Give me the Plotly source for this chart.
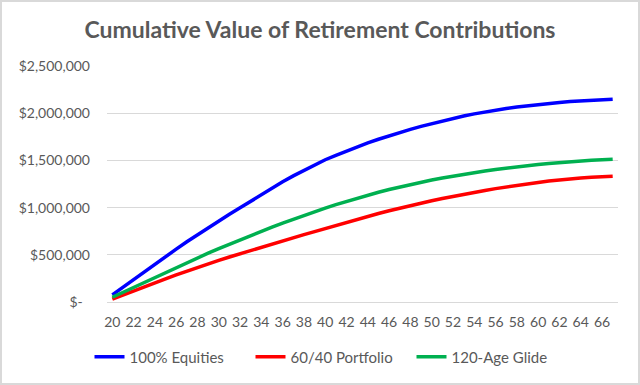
import plotly.graph_objects as go

ages = list(range(20, 68))
equities = [75, 157, 240, 322, 402, 482, 560, 638, 713, 787,
            860, 930, 998, 1069, 1139, 1207, 1273, 1336, 1396, 1453,
            1507, 1554, 1599, 1643, 1685, 1724, 1761, 1796, 1829, 1860,
            1889, 1918, 1945, 1970, 1993, 2014, 2033, 2050, 2065, 2079,
            2092, 2104, 2114, 2123, 2131, 2138, 2144, 2148]
portfolio_6040 = [30, 75, 120, 163, 205, 246, 287, 327, 366, 404,
                  441, 477, 512, 547, 581, 614, 647, 680, 713, 746,
                  779, 812, 844, 876, 907, 937, 966, 994, 1021, 1047,
                  1072, 1096, 1119, 1141, 1162, 1182, 1201, 1219, 1236, 1252,
                  1267, 1281, 1294, 1305, 1314, 1321, 1327, 1331]
glide_120 = [50, 103, 156, 209, 262, 314, 366, 418, 468, 517,
             565, 612, 658, 703, 748, 792, 835, 877, 918, 957,
             995, 1032, 1067, 1101, 1133, 1163, 1192, 1219, 1245, 1269,
             1292, 1313, 1333, 1352, 1370, 1387, 1403, 1418, 1432, 1445,
             1457, 1468, 1478, 1487, 1495, 1502, 1508, 1513]

series = [
    ("100% Equities", equities, "#0000FF"),
    ("60/40 Portfolio", portfolio_6040, "#FF0000"),
    ("120-Age Glide", glide_120, "#00B050"),
]

y_tickvals = [0, 500000, 1000000, 1500000, 2000000, 2500000]
y_ticktext = ["$-\u00a0\u00a0", "$500,000", "$1,000,000", "$1,500,000", "$2,000,000", "$2,500,000"]
x_tickvals = list(range(20, 67, 2))

FONT = "Lato"
GRAY = "#595959"

fig = go.Figure()
for name, vals, color in series:
    fig.add_trace(go.Scatter(
        x=ages, y=[v * 1000 for v in vals], mode="lines", name=name,
        line=dict(color=color, width=3.5)))

W, H = 640, 385
L, R, T, B = 107, 22, 66, 83
pw, ph = W - L - R, H - T - B

fig.update_layout(
    width=W, height=H,
    margin=dict(l=L, r=R, t=T, b=B),
    paper_bgcolor="white", plot_bgcolor="white",
    font=dict(family=FONT, color=GRAY, size=14),
    title=dict(text="<b>Cumulative Value of Retirement Contributions</b>",
               x=0.5, xref="container", xanchor="center",
               y=1 - 30 / H, yref="container", yanchor="middle",
               font=dict(family=FONT, size=23, color=GRAY)),
    showlegend=True,
    legend=dict(orientation="h", x=(331 - L) / pw, xanchor="center",
                y=-(357 - (T + ph)) / ph, yanchor="middle",
                font=dict(family=FONT, size=15, color=GRAY),
                entrywidth=116, entrywidthmode="pixels",
                itemwidth=30, tracegroupgap=0, bgcolor="rgba(0,0,0,0)"),
    xaxis=dict(range=[19.5, 67.5], tickvals=x_tickvals, showgrid=False,
               zeroline=False, showline=False, ticks="",
               ticklabelstandoff=10, tickfont=dict(size=14, color=GRAY)),
    yaxis=dict(range=[0, 2500000], tickvals=y_tickvals, ticktext=y_ticktext,
               showgrid=True, gridcolor="#D9D9D9", gridwidth=1,
               zeroline=True, zerolinecolor="#D9D9D9", zerolinewidth=1,
               showline=False, ticks="", ticklabelstandoff=16,
               tickfont=dict(size=14, color=GRAY)),
    shapes=[dict(type="rect", xref="paper", yref="paper",
                 x0=-(L - 1) / pw, x1=1 + (R - 1) / pw,
                 y0=-(B - 1) / ph, y1=1 + (T - 1) / ph,
                 line=dict(color="#D9D9D9", width=2), layer="below")],
)

fig.write_html("out.html", config={"displayModeBar": False},
               post_script="document.body.style.margin='0';")
